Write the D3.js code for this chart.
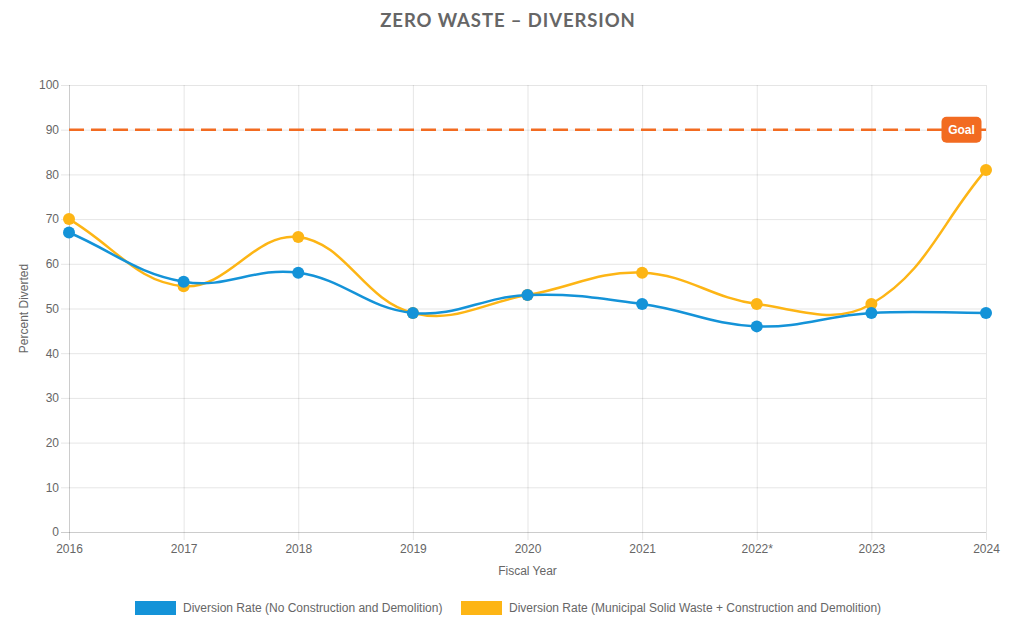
<!DOCTYPE html>
<html><head><meta charset="utf-8">
<script src="https://cdn.jsdelivr.net/npm/d3@7/dist/d3.min.js"></script>
<style>
html,body{margin:0;padding:0;background:#fff;}
svg{display:block;}
</style></head>
<body>
<svg id="chart" width="1011" height="629"></svg>
<script>
const categories = ["2016","2017","2018","2019","2020","2021","2022*","2023","2024"];
const seriesNoCD = [67,56,58,49,53,51,46,49,49];
const seriesMSWCD = [70,55,66,49,53,58,51,51,81];
const seriesNames = ["Diversion Rate (No Construction and Demolition)","Diversion Rate (Municipal Solid Waste + Construction and Demolition)"];
const seriesColors = ["#1493d8","#fdb515"];
const yTicks = [0,10,20,30,40,50,60,70,80,90,100];
const goalValue = 90;
const goalLabel = "Goal";
const titleText = "ZERO WASTE – DIVERSION";

(function(){
const svg = d3.select("#chart");
const pLeft = 69, pRight = 986, pTop = 85, pBottom = 532;
const font = "'Liberation Sans', Arial, Helvetica, sans-serif";
const txt = "#666";

const x = d3.scalePoint().domain(categories).range([pLeft, pRight]);
const y = d3.scaleLinear().domain([0,100]).range([pBottom, pTop]);

svg.append("text").attr("x", 508).attr("y", 27).attr("text-anchor","middle")
  .attr("font-family","Lato, 'Open Sans', sans-serif").attr("font-weight","bold")
  .attr("font-size",18.5).attr("letter-spacing","0.9px").attr("fill","#666").text(titleText);

const grid = svg.append("g");
yTicks.forEach(t => {
  grid.append("line").attr("x1", pLeft-8).attr("x2", pRight).attr("y1", y(t)+0.5).attr("y2", y(t)+0.5)
    .attr("stroke", t===0 ? "rgba(0,0,0,0.2)" : "rgba(0,0,0,0.1)").attr("stroke-width",1);
});
categories.forEach((c,i) => {
  grid.append("line").attr("x1", x(c)+0.5).attr("x2", x(c)+0.5).attr("y1", pTop).attr("y2", pBottom+8)
    .attr("stroke", i===0 ? "rgba(0,0,0,0.2)" : "rgba(0,0,0,0.1)").attr("stroke-width",1);
});

const yAxis = svg.append("g").attr("transform",`translate(${pLeft-10},0)`)
  .call(d3.axisLeft(y).tickValues(yTicks).tickSize(0).tickPadding(0));
yAxis.select(".domain").remove();
yAxis.selectAll("text").attr("font-family",font).attr("font-size",12).attr("fill",txt);

const xAxis = svg.append("g").attr("transform",`translate(0,${pBottom+10})`)
  .call(d3.axisBottom(x).tickSize(0).tickPadding(0));
xAxis.select(".domain").remove();
xAxis.selectAll("text").attr("font-family",font).attr("font-size",12).attr("fill",txt).attr("dy","0.95em");

svg.append("text").attr("transform",`translate(28,${(pTop+pBottom)/2}) rotate(-90)`).attr("text-anchor","middle")
  .attr("font-family",font).attr("font-size",12).attr("fill",txt).text("Percent Diverted");
svg.append("text").attr("x",(pLeft+pRight)/2).attr("y",575).attr("text-anchor","middle")
  .attr("font-family",font).attr("font-size",12).attr("fill",txt).text("Fiscal Year");

function splinePath(pts, t) {
  const p = d3.path();
  const cps = pts.map((cur,i) => {
    const prev = pts[i-1] || cur, next = pts[i+1] || cur;
    const d01 = Math.hypot(cur[0]-prev[0], cur[1]-prev[1]);
    const d12 = Math.hypot(next[0]-cur[0], next[1]-cur[1]);
    let s01 = d01/(d01+d12), s12 = d12/(d01+d12);
    if (!isFinite(s01)) s01 = 0; if (!isFinite(s12)) s12 = 0;
    const fa = t*s01, fb = t*s12;
    return {
      px: cur[0]-fa*(next[0]-prev[0]), py: cur[1]-fa*(next[1]-prev[1]),
      nx: cur[0]+fb*(next[0]-prev[0]), ny: cur[1]+fb*(next[1]-prev[1])
    };
  });
  pts.forEach((pt,i) => {
    if (i===0) p.moveTo(pt[0],pt[1]);
    else p.bezierCurveTo(cps[i-1].nx, cps[i-1].ny, cps[i].px, cps[i].py, pt[0], pt[1]);
  });
  return p.toString();
}

svg.append("line").attr("x1",pLeft).attr("x2",pRight).attr("y1",y(goalValue)).attr("y2",y(goalValue))
  .attr("stroke","#f26b21").attr("stroke-width",2.5).attr("stroke-dasharray","15,7");

const allSeries = [seriesNoCD, seriesMSWCD];
[1,0].forEach(si => {
  const pts = allSeries[si].map((v,i) => [x(categories[i]), y(v)]);
  svg.append("path").attr("d", splinePath(pts, 0.4)).attr("fill","none")
    .attr("stroke", seriesColors[si]).attr("stroke-width",2.5);
  svg.append("g").selectAll("circle").data(allSeries[si]).join("circle")
    .attr("cx",(d,i)=>x(categories[i])).attr("cy",d=>y(d)).attr("r",6)
    .attr("fill",seriesColors[si]);
});

const gx = 961.5, gy = y(goalValue);
svg.append("rect").attr("x",gx-20).attr("y",gy-13).attr("width",40).attr("height",26).attr("rx",5)
  .attr("fill","#f26b21");
svg.append("text").attr("x",gx).attr("y",gy+4).attr("text-anchor","middle")
  .attr("font-family",font).attr("font-weight","bold").attr("font-size",12).attr("fill","#fff").text(goalLabel);

const legend = svg.append("g");
const legendX = [135, 461];
seriesNames.forEach((n,i) => {
  legend.append("rect").attr("x",legendX[i]).attr("y",601).attr("width",41).attr("height",14).attr("fill",seriesColors[i]);
  legend.append("text").attr("x",legendX[i]+48).attr("y",612).attr("font-family",font).attr("font-size",12)
    .attr("fill",txt).text(n);
});
})();
</script>
</body></html>
